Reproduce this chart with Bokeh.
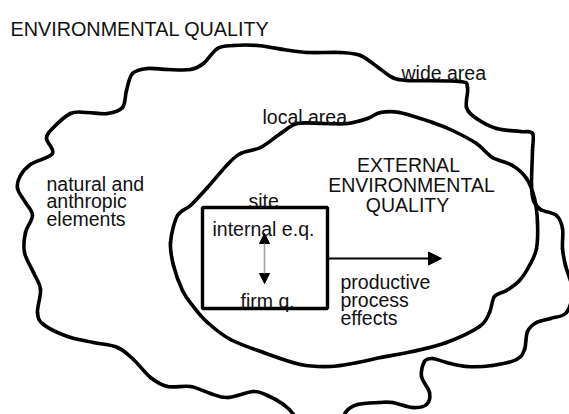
from bokeh.plotting import figure
from bokeh.models import Range1d, Arrow, NormalHead, ColumnDataSource
from bokeh.core.properties import value
from bokeh.embed import file_html
from bokeh.resources import INLINE

# ---- diagram outlines (traced, image pixel coordinates) ----
wide_x = [30, 52, 46, 52, 70, 87, 107, 122, 126, 132, 147, 167, 190, 203, 217, 233, 257, 283, 307, 340,
          360, 379, 392, 406, 459, 467, 466, 476, 496, 520, 532, 532, 531, 533, 540, 556, 562, 562, 565, 572,
          566, 550, 536, 527, 524, 516, 492, 466, 446, 432, 424, 421, 429, 426, 412, 392, 379, 357, 345, 340,
          300, 293, 283, 267, 253, 227, 210, 190, 167, 150, 133, 117, 93, 67, 43, 37, 40, 33, 24, 25,
          32, 25, 17, 20]
wide_y = [164, 153, 138, 128, 113, 112, 113, 107, 90, 73, 68, 69, 69, 63, 48, 45, 45, 49, 52, 52,
          55, 68, 77, 80, 81, 87, 107, 118, 128, 131, 133, 150, 185, 200, 209, 215, 228, 248, 265, 290,
          312, 318, 322, 331, 349, 359, 365, 366, 362, 358, 361, 376, 392, 404, 407, 402, 402, 404, 412, 430,
          430, 414, 404, 395, 391, 397, 393, 386, 386, 377, 359, 347, 342, 336, 324, 312, 289, 272, 252, 232,
          215, 202, 188, 175]

local_x = [227, 240, 260, 280, 297, 323, 347, 367, 380, 399, 432, 452, 476, 492, 512, 526, 534, 537, 536, 529,
           519, 506, 494, 489, 479, 446, 412, 380, 357, 330, 300, 263, 230, 207, 192, 182, 173, 170, 177, 190,
           207]
local_y = [164, 153, 147, 133, 123, 123, 123, 118, 112, 112, 122, 130, 143, 157, 165, 178, 198, 222, 248, 265,
           280, 290, 296, 312, 326, 342, 351, 357, 362, 366, 364, 352, 339, 322, 305, 290, 265, 242, 215, 205,
           187]

# site box
box_left, box_right, box_top, box_bottom = 202, 327, 207, 308

# labels
label_text = ["natural and", "anthropic", "elements", "wide area", "local area", "site",
              "internal e.q.", "firm q.", "productive", "process", "effects"]
label_x = [46, 46, 46, 401, 262, 248, 212, 240, 340, 340, 340]
label_y = [183, 200, 218, 72, 116, 200, 228, 300, 281, 299, 317]

center_text = ["EXTERNAL", "ENVIRONMENTAL", "QUALITY"]
center_x = [408, 411, 407]
center_y = [164, 184, 204]

title_text = "ENVIRONMENTAL QUALITY"

W, H = 569, 414


def catmull_bezier(xs, ys):
    n = len(xs)
    out = {k: [] for k in ("x0", "y0", "x1", "y1", "cx0", "cy0", "cx1", "cy1")}
    for i in range(n):
        p0 = (xs[i - 1], ys[i - 1])
        p1 = (xs[i], ys[i])
        p2 = (xs[(i + 1) % n], ys[(i + 1) % n])
        p3 = (xs[(i + 2) % n], ys[(i + 2) % n])
        out["x0"].append(p1[0]); out["y0"].append(p1[1])
        out["x1"].append(p2[0]); out["y1"].append(p2[1])
        out["cx0"].append(p1[0] + (p2[0] - p0[0]) / 6.0)
        out["cy0"].append(p1[1] + (p2[1] - p0[1]) / 6.0)
        out["cx1"].append(p2[0] - (p3[0] - p1[0]) / 6.0)
        out["cy1"].append(p2[1] - (p3[1] - p1[1]) / 6.0)
    return ColumnDataSource(out)


p = figure(width=W, height=H, output_backend="svg", toolbar_location=None,
           x_range=Range1d(0, W), y_range=Range1d(H, 0), min_border=0)
p.axis.visible = False
p.grid.visible = False
p.outline_line_color = None
p.background_fill_color = "white"
p.border_fill_color = "white"

for xs, ys in ((wide_x, wide_y), (local_x, local_y)):
    src = catmull_bezier(xs, ys)
    p.bezier(x0="x0", y0="y0", x1="x1", y1="y1", cx0="cx0", cy0="cy0", cx1="cx1", cy1="cy1",
             source=src, line_color="black", line_width=3.6, line_cap="round", line_join="round")

p.quad(left=[box_left], right=[box_right], top=[box_top], bottom=[box_bottom],
       fill_color=None, line_color="black", line_width=3.4)

# productive process arrow
p.add_layout(Arrow(end=NormalHead(size=13, fill_color="black", line_color="black", line_width=1),
                   x_start=box_right, y_start=258, x_end=441, y_end=258,
                   line_color="black", line_width=2))
# internal <-> firm double arrow
p.add_layout(Arrow(start=NormalHead(size=10, fill_color="black", line_color="black", line_width=1),
                   end=NormalHead(size=10, fill_color="black", line_color="black", line_width=1),
                   x_start=264, y_start=233, x_end=264, y_end=283,
                   line_color="#a0a0a0", line_width=1.6))

FONT = value("Liberation Sans")
p.text(x=label_x, y=label_y, text=label_text, text_font=FONT, text_font_size=value("19.5px"),
       text_align="left", text_baseline="alphabetic", text_color="#111111")
p.text(x=center_x, y=center_y, text=center_text, text_font=FONT, text_font_size=value("19.5px"),
       text_align="center", text_baseline="alphabetic", text_color="#111111")
p.text(x=[10], y=[28], text=[title_text], text_font=FONT, text_font_size=value("19.8px"),
       text_align="left", text_baseline="alphabetic", text_color="#111111")

open("out.html", "w").write(file_html(p, INLINE))
